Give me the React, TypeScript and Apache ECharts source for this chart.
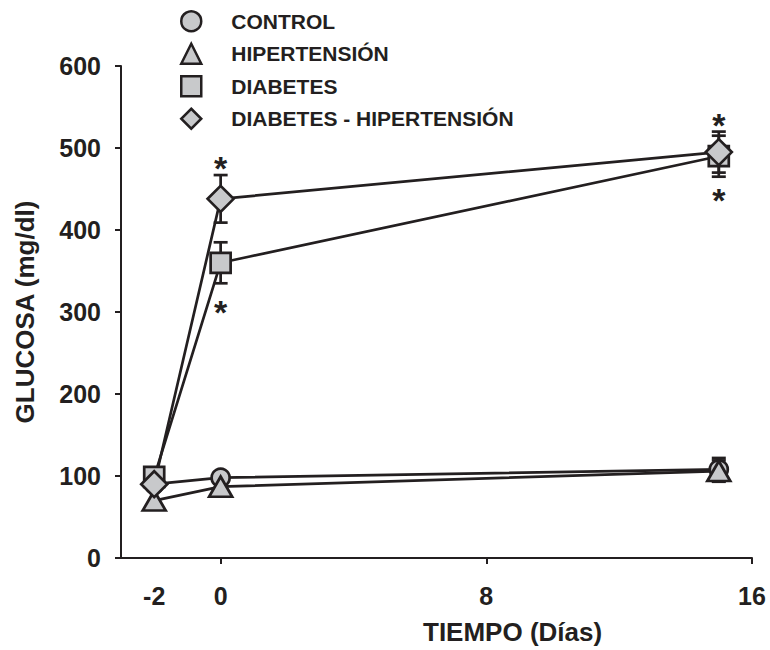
import React, { useEffect, useRef } from "react";
import * as echarts from "echarts";

const xDays = [-2, 0, 15];
const seriesNames = ["CONTROL", "HIPERTENSIÓN", "DIABETES", "DIABETES - HIPERTENSIÓN"];
const controlValues = [90, 98, 108];
const hiperValues = [70, 87, 106];
const diabetesValues = [99, 360, 490];
const diabHiperValues = [90, 438, 495];
const controlErr = [0, 4, 14];
const hiperErr = [0, 4, 13];
const diabetesErr = [0, 25, 25];
const diabHiperErr = [0, 29, 25];
const asteriskPoints = [
  [0, 476],
  [0, 300],
  [15, 528],
  [15, 437],
];
const yTicks = [0, 100, 200, 300, 400, 500, 600];
const xTickValues = [0, 8, 16];
const xLabelValues = [-2, 0, 8, 16];

const FONT = "Liberation Sans, Arial, sans-serif";
const FILL = "#c8c9cb";
const INK = "#231f20";

export default function App() {
  const ref = useRef<HTMLDivElement>(null);
  useEffect(() => {
    if (!ref.current) return;
    const chart = echarts.init(ref.current, undefined, { renderer: "svg" });
    const valuesList = [controlValues, hiperValues, diabetesValues, diabHiperValues];
    const errList = [controlErr, hiperErr, diabetesErr, diabHiperErr];
    const symbols = ["circle", "triangle", "rect", "diamond"];
    const sizes: any[] = [18, [23, 20], 20, [26, 26]];

    const errData: number[][] = [];
    valuesList.forEach((vals, si) => {
      vals.forEach((v, i) => {
        const e = errList[si][i];
        if (e > 0) errData.push([xDays[i], v - e, v + e]);
      });
    });

    const lineSeries = valuesList.map((vals, si) => ({
      type: "line",
      name: seriesNames[si],
      data: vals.map((v, i) => [xDays[i], v]),
      symbol: symbols[si],
      symbolSize: sizes[si],
      showAllSymbol: true,
      lineStyle: { color: INK, width: 2.7 },
      itemStyle: { color: FILL, borderColor: INK, borderWidth: 2.7 },
      z: 3,
    }));

    chart.setOption({
      animation: false,
      grid: { left: 121, right: 18, top: 66, bottom: 92, containLabel: false },
      legend: {
        orient: "vertical",
        left: 175,
        top: 5,
        itemWidth: 20,
        itemHeight: 20,
        itemGap: 10,
        selectedMode: false,
        textStyle: {
          fontFamily: FONT,
          fontWeight: "bold",
          fontSize: 21,
          color: INK,
          padding: [0, 0, 0, 25],
        },
        data: seriesNames.map((n, si) => ({
          name: n,
          icon: symbols[si],
          itemStyle: { color: FILL, borderColor: INK, borderWidth: 2.5 },
        })),
      },
      xAxis: {
        type: "value",
        min: -3,
        max: 16,
        splitLine: { show: false },
        axisLine: { show: true, onZero: false, lineStyle: { color: INK, width: 2 } },
        axisTick: {
          show: true,
          length: 6,
          customValues: xTickValues,
          lineStyle: { color: INK, width: 2 },
        },
        axisLabel: {
          customValues: xLabelValues,
          margin: 25,
          fontFamily: FONT,
          fontWeight: "bold",
          fontSize: 25,
          color: INK,
        },
      },
      yAxis: {
        type: "value",
        min: 0,
        max: 600,
        interval: 100,
        splitLine: { show: false },
        axisLine: { show: true, onZero: false, lineStyle: { color: INK, width: 2 } },
        axisTick: { show: true, length: 6, lineStyle: { color: INK, width: 2 } },
        axisLabel: {
          margin: 20,
          fontFamily: FONT,
          fontWeight: "bold",
          fontSize: 25,
          color: INK,
          formatter: (v: number) => (yTicks.includes(v) ? String(v) : ""),
        },
        name: "GLUCOSA (mg/dl)",
        nameLocation: "middle",
        nameGap: 83,
        nameTextStyle: {
          fontFamily: FONT,
          fontWeight: "bold",
          fontSize: 26,
          color: INK,
        },
      },
      graphic: [
        {
          type: "text",
          left: 423,
          top: 619,
          style: {
            text: "TIEMPO (Días)",
            fontFamily: FONT,
            fontWeight: "bold",
            fontSize: 26,
            fill: INK,
          },
        },
      ],
      series: [
        {
          type: "custom",
          name: "err",
          data: errData,
          z: 2,
          renderItem: (params: any, api: any) => {
            const x = api.value(0);
            const lo = api.coord([x, api.value(1)]);
            const hi = api.coord([x, api.value(2)]);
            const w = 7;
            const st = { stroke: INK, lineWidth: 2.7 };
            return {
              type: "group",
              children: [
                { type: "line", shape: { x1: lo[0], y1: lo[1], x2: hi[0], y2: hi[1] }, style: st },
                { type: "line", shape: { x1: lo[0] - w, y1: lo[1], x2: lo[0] + w, y2: lo[1] }, style: st },
                { type: "line", shape: { x1: hi[0] - w, y1: hi[1], x2: hi[0] + w, y2: hi[1] }, style: st },
              ],
            };
          },
        },
        ...lineSeries,
        {
          type: "custom",
          name: "asterisk",
          data: asteriskPoints,
          z: 4,
          renderItem: (params: any, api: any) => {
            const p = api.coord([api.value(0), api.value(1)]);
            return {
              type: "text",
              x: p[0],
              y: p[1],
              style: {
                text: "*",
                fontFamily: FONT,
                fontWeight: "bold",
                fontSize: 34,
                fill: INK,
                align: "center",
                verticalAlign: "middle",
              },
            };
          },
        },
      ],
    });
    return () => chart.dispose();
  }, []);
  return (
    <div
      ref={ref}
      style={{ position: "absolute", left: 0, top: 0, width: 770, height: 650 }}
    />
  );
}
